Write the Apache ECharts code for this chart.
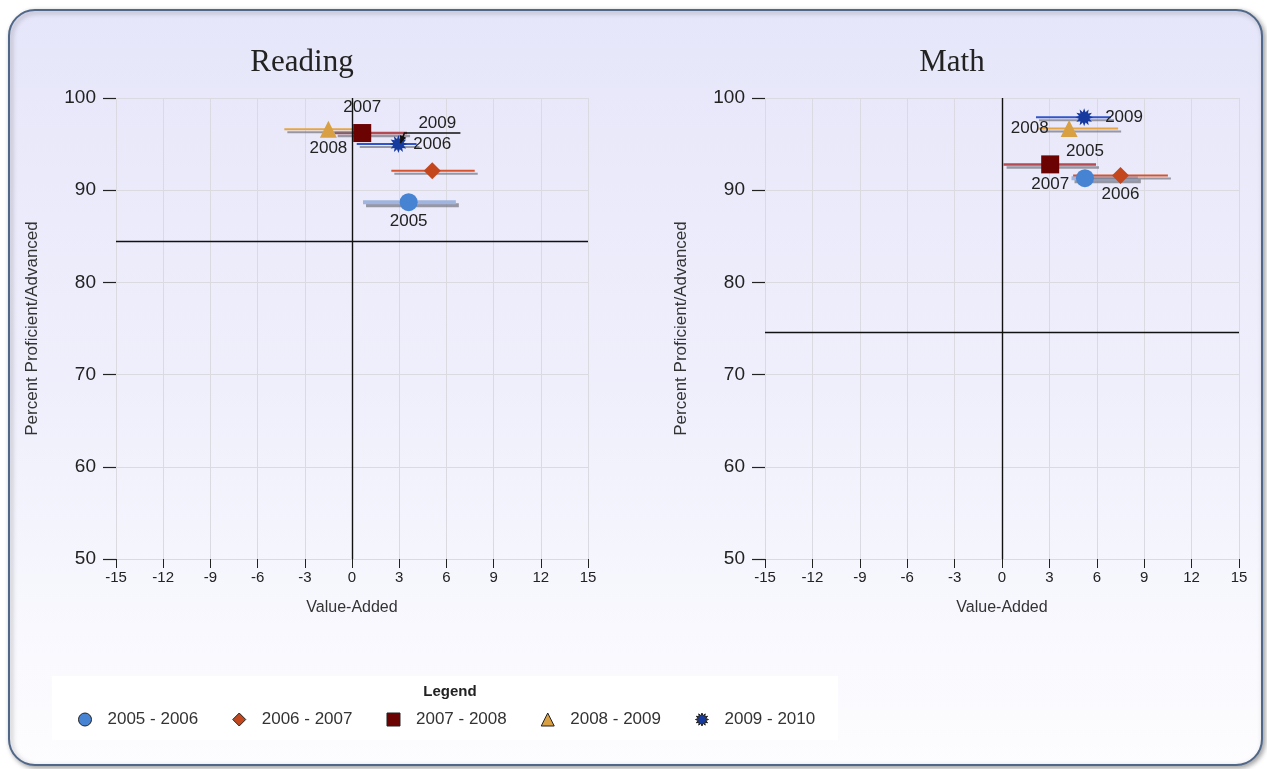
<!DOCTYPE html>
<html>
<head>
<meta charset="utf-8">
<script src="https://cdn.jsdelivr.net/npm/echarts@6/dist/echarts.min.js"></script>
<style>
  html, body { margin: 0; padding: 0; background: #ffffff; }
  #chart { width: 1267px; height: 769px; }
</style>
</head>
<body>
<div id="chart"></div>
<script>
// School years, one marker per year in each subject
const periods = ['2005 - 2006', '2006 - 2007', '2007 - 2008', '2008 - 2009', '2009 - 2010'];
const pointLabels = ['2005', '2006', '2007', '2008', '2009'];

// Reading: value-added estimate with its low/high range, and percent proficient/advanced
const readingValueAdded = [3.6, 5.1, 0.65, -1.5, 2.95];
const readingLow = [0.7, 2.5, -1.1, -4.3, 0.3];
const readingHigh = [6.6, 7.8, 3.5, 0.1, 4.1];
const readingProficient = [88.7, 92.1, 96.2, 96.6, 95.0];
const readingTarget = 84.5;

// Math
const mathValueAdded = [5.25, 7.5, 3.05, 4.25, 5.2];
const mathLow = [4.4, 4.5, 0.1, 2.3, 2.15];
const mathHigh = [8.6, 10.5, 5.95, 7.35, 6.9];
const mathProficient = [91.3, 91.6, 92.8, 96.7, 97.9];
const mathTarget = 74.6;

// Axis ticks
const xTicks = [-15, -12, -9, -6, -3, 0, 3, 6, 9, 12, 15];
const yTicks = [50, 60, 70, 80, 90, 100];

// ---- styling ----
const FONT = "'Liberation Sans', Arial, sans-serif";
const SERIF = "'Liberation Serif', 'Times New Roman', serif";

function starburst(n, rOut, rIn) {
  let d = '';
  for (let i = 0; i < n * 2; i++) {
    const r = i % 2 === 0 ? rOut : rIn;
    const a = Math.PI * i / n - Math.PI / 2;
    d += (i === 0 ? 'M' : 'L') + (r * Math.cos(a)).toFixed(2) + ',' + (r * Math.sin(a)).toFixed(2);
  }
  return 'path://' + d + 'Z';
}

const markerStyles = [
  { symbol: 'circle', size: 18, color: '#4683d3' },
  { symbol: 'diamond', size: 17, color: '#c4461d' },
  { symbol: 'rect', size: 18, color: '#6b0303' },
  { symbol: 'triangle', size: 17, color: '#d8a043' },
  { symbol: starburst(12, 10, 6), size: 18, color: '#173a9e' }
];
const barStyles = [
  { color: '#9fb4de', width: 4 },
  { color: '#d8532b', width: 2 },
  { color: '#b44a52', width: 2.5 },
  { color: '#e6a443', width: 2 },
  { color: '#2f55c8', width: 2 }
];

// label placement per year; "leader" draws a pointer line under a moved label
const readingLabelPlace = [
  { position: 'bottom', distance: 2 },
  { position: 'top', distance: 10 },
  { position: 'top', distance: 8 },
  { position: 'bottom', distance: 2 },
  { position: 'right', distance: 5, move: { dx: 6, dy: -21 }, leader: true }
];
const mathLabelPlace = [
  { position: 'top', distance: 9 },
  { position: 'bottom', distance: 2 },
  { position: 'bottom', distance: 2 },
  { position: 'left', distance: 12 },
  { position: 'right', distance: 12 }
];

function makeAxes(gridIndex) {
  const xAxis = {
    gridIndex: gridIndex, type: 'value',
    min: xTicks[0], max: xTicks[xTicks.length - 1], interval: xTicks[1] - xTicks[0],
    name: 'Value-Added', nameLocation: 'middle', nameGap: 41,
    nameTextStyle: { fontFamily: FONT, fontSize: 16, color: '#333' },
    axisLine: { show: false, onZero: false },
    axisTick: { show: true, length: 9, lineStyle: { color: '#222', width: 1 } },
    axisLabel: { fontFamily: FONT, fontSize: 15, color: '#222', margin: 11 },
    splitLine: { show: true, lineStyle: { color: '#dadae0', width: 1 } }
  };
  const yAxis = {
    gridIndex: gridIndex, type: 'value',
    min: yTicks[0], max: yTicks[yTicks.length - 1], interval: yTicks[1] - yTicks[0],
    name: 'Percent Proficient/Advanced', nameLocation: 'middle', nameGap: 75,
    nameTextStyle: { fontFamily: FONT, fontSize: 17, color: '#333' },
    axisLine: { show: false, onZero: false },
    axisTick: { show: true, length: 13, lineStyle: { color: '#222', width: 1.2 } },
    axisLabel: { fontFamily: FONT, fontSize: 19, color: '#222', margin: 20 },
    splitLine: { show: true, lineStyle: { color: '#dadae0', width: 1 } }
  };
  return { xAxis, yAxis };
}

function makeSeries(gridIndex, va, lo, hi, prof, target, place) {
  const out = [];
  // range bars with a soft grey drop line
  out.push({
    type: 'custom', name: 'range' + gridIndex,
    xAxisIndex: gridIndex, yAxisIndex: gridIndex,
    silent: true, z: 1,
    data: va.map((v, i) => [lo[i], hi[i], prof[i], i]),
    encode: { x: [0, 1], y: 2 },
    renderItem: function (params, api) {
      const a = api.coord([api.value(0), api.value(2)]);
      const b = api.coord([api.value(1), api.value(2)]);
      const st = barStyles[api.value(3)];
      return {
        type: 'group',
        children: [
          { type: 'line', shape: { x1: a[0] + 3, y1: a[1] + 3, x2: b[0] + 3, y2: b[1] + 3 },
            style: { stroke: 'rgba(115,115,125,0.7)', lineWidth: st.width } },
          { type: 'line', shape: { x1: a[0], y1: a[1], x2: b[0], y2: b[1] },
            style: { stroke: st.color, lineWidth: st.width } }
        ]
      };
    },
    markLine: {
      silent: true, symbol: ['none', 'none'], animation: false,
      label: { show: false },
      lineStyle: { color: '#111', width: 1.4, type: 'solid' },
      data: [{ yAxis: target }, { xAxis: 0 }]
    }
  });

  // pointer lines for labels that sit away from their marker
  const leaderIdx = place.map((p, i) => (p.leader ? i : -1)).filter(i => i >= 0);
  if (leaderIdx.length) {
    out.push({
      type: 'custom', name: 'leader' + gridIndex,
      xAxisIndex: gridIndex, yAxisIndex: gridIndex,
      silent: true, z: 4,
      data: leaderIdx.map(i => [va[i], prof[i]]),
      renderItem: function (params, api) {
        const p = api.coord([api.value(0), api.value(1)]);
        const tip = [p[0] + 2, p[1] - 1];
        const knee = [p[0] + 6, p[1] - 11];
        const end = [p[0] + 62, p[1] - 11];
        const ang = Math.atan2(tip[1] - knee[1], tip[0] - knee[0]);
        const ah = 8, aw = 0.45;
        return {
          type: 'group',
          children: [
            { type: 'polyline', shape: { points: [tip, knee, end] },
              style: { stroke: '#111', lineWidth: 1.5, fill: null } },
            { type: 'polygon', shape: { points: [
                tip,
                [tip[0] - ah * Math.cos(ang - aw), tip[1] - ah * Math.sin(ang - aw)],
                [tip[0] - ah * Math.cos(ang + aw), tip[1] - ah * Math.sin(ang + aw)]
              ] },
              style: { fill: '#111' } }
          ]
        };
      }
    });
  }

  periods.forEach((p, i) => {
    const m = markerStyles[i];
    const pl = place[i];
    const s = {
      type: 'scatter', name: p,
      xAxisIndex: gridIndex, yAxisIndex: gridIndex,
      symbol: m.symbol, symbolSize: m.size, z: 3,
      itemStyle: { color: m.color, opacity: 1 },
      label: {
        show: true, formatter: pointLabels[i],
        position: pl.position, distance: pl.distance,
        fontFamily: FONT, fontSize: 17, color: '#222'
      },
      data: [[va[i], prof[i]]]
    };
    if (pl.move) {
      s.labelLayout = { dx: pl.move.dx, dy: pl.move.dy };
    }
    out.push(s);
  });
  return out;
}

const chart = echarts.init(document.getElementById('chart'), null, { renderer: 'canvas' });

const left = makeAxes(0);
const right = makeAxes(1);

const option = {
  animation: false,
  backgroundColor: '#ffffff',
  grid: [
    { left: 116, top: 98, width: 472, height: 461 },
    { left: 765, top: 98, width: 474, height: 461 }
  ],
  xAxis: [left.xAxis, right.xAxis],
  yAxis: [left.yAxis, right.yAxis],
  graphic: [
    {
      type: 'rect', z: -10, silent: true,
      shape: { x: 9, y: 10, width: 1253, height: 755, r: 26 },
      style: {
        fill: new echarts.graphic.LinearGradient(0, 0, 0, 1, [
          { offset: 0, color: '#e6e6fa' },
          { offset: 0.5, color: '#efeffc' },
          { offset: 1, color: '#fdfdff' }
        ]),
        stroke: '#4f6789', lineWidth: 2,
        shadowBlur: 5, shadowOffsetX: 2, shadowOffsetY: 2, shadowColor: 'rgba(0,0,0,0.35)'
      }
    },
    {
      type: 'rect', z: -9, silent: true,
      shape: { x: 52, y: 676, width: 786, height: 64 },
      style: { fill: '#ffffff' }
    },
    {
      type: 'text', z: 5, silent: true,
      style: { text: 'Legend', x: 450, y: 692, align: 'center', verticalAlign: 'middle',
        font: 'bold 15px ' + FONT, fill: '#222' }
    },
    {
      type: 'text', z: 5, silent: true,
      style: { text: 'Reading', x: 302, y: 63, align: 'center', verticalAlign: 'middle',
        font: '31px ' + SERIF, fill: '#222' }
    },
    {
      type: 'text', z: 5, silent: true,
      style: { text: 'Math', x: 952, y: 63, align: 'center', verticalAlign: 'middle',
        font: '31px ' + SERIF, fill: '#222' }
    }
  ],
  legend: {
    data: periods,
    left: 73, top: 706,
    itemWidth: 13, itemHeight: 13, itemGap: 34,
    selectedMode: false,
    itemStyle: { borderColor: '#222', borderWidth: 1 },
    textStyle: { fontFamily: FONT, fontSize: 17, color: '#333', padding: [0, 0, 0, 11] }
  },
  series: [].concat(
    makeSeries(0, readingValueAdded, readingLow, readingHigh, readingProficient, readingTarget, readingLabelPlace),
    makeSeries(1, mathValueAdded, mathLow, mathHigh, mathProficient, mathTarget, mathLabelPlace)
  )
};

chart.setOption(option);
</script>
</body>
</html>
